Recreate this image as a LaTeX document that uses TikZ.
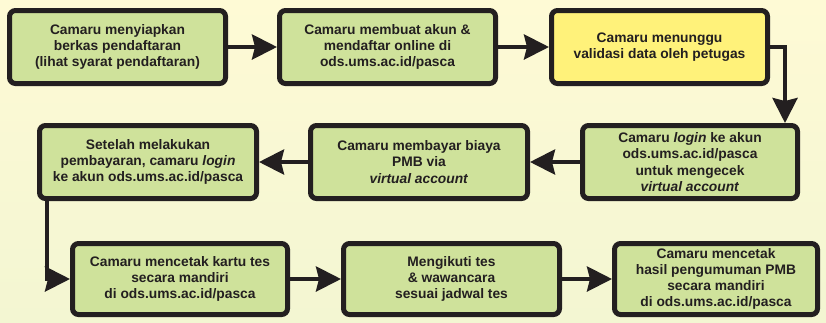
\documentclass[tikz,border=0pt]{standalone}
\usepackage{fontspec}
\setmainfont{Liberation Sans}
\usetikzlibrary{arrows.meta}
\definecolor{bgtop}{RGB}{254,250,213}
\definecolor{bgbot}{RGB}{243,246,210}
\definecolor{boxgreen}{RGB}{207,226,155}
\definecolor{boxyellow}{RGB}{255,242,122}
\definecolor{ink}{RGB}{35,31,32}
\tikzset{
  stepbox/.style={draw=ink, line width=5pt, rounded corners=6pt, fill=boxgreen,
    minimum width=216pt, minimum height=73pt, inner sep=2pt, align=center,
    text=ink, font=\fontsize{13.8}{16.2}\selectfont\bfseries},
  waitbox/.style={stepbox, fill=boxyellow},
  flow/.style={draw=ink, line width=4pt,
    -{Stealth[length=25pt, width=25pt, inset=3pt]}}
}
\begin{document}
\begin{tikzpicture}[x=1pt, y=-1pt]
\shade[top color=bgtop, bottom color=bgbot] (0,0) rectangle (826,322);
\useasboundingbox (0,0) rectangle (826,322);

\node[stepbox] (b1) at (117.5,47) {Camaru menyiapkan\\berkas pendaftaran\\(lihat syarat pendaftaran)};
\node[stepbox] (b2) at (387.5,47) {Camaru membuat akun \&\\mendaftar online di\\ods.ums.ac.id/pasca};
\node[waitbox] (b3) at (659.5,47) {Camaru menunggu\\validasi data oleh petugas};

\node[stepbox, minimum width=215pt] (b6) at (690,162) {Camaru \textit{login} ke akun\\ods.ums.ac.id/pasca\\untuk mengecek\\\textit{virtual account}};
\node[stepbox, minimum width=217pt] (b5) at (419,162) {Camaru membayar biaya\\PMB via\\\textit{virtual account}};
\node[stepbox, minimum width=217pt] (b4) at (148,162) {Setelah melakukan\\pembayaran, camaru \textit{login}\\ke akun ods.ums.ac.id/pasca};

\node[stepbox, minimum width=215pt, minimum height=71pt] (b7) at (180,279) {Camaru mencetak kartu tes\\secara mandiri\\di ods.ums.ac.id/pasca};
\node[stepbox, minimum height=71pt] (b8) at (451.5,279) {Mengikuti tes\\\& wawancara\\sesuai jadwal tes};
\node[stepbox, minimum width=203pt, minimum height=71pt] (b9) at (716,279) {Camaru mencetak\\hasil pengumuman PMB\\secara mandiri\\di ods.ums.ac.id/pasca};

\draw[flow] (b1) -- (b2);
\draw[flow] (b2) -- (b3);
\draw[flow] (b3.east) -| ([xshift=95pt]b6.north);
\draw[flow] (b6) -- (b5);
\draw[flow] (b5) -- (b4);
\draw[flow] ([xshift=-101pt]b4.south) |- (b7.west);
\draw[flow] (b7) -- (b8);
\draw[flow] (b8) -- (b9);
\end{tikzpicture}
\end{document}
